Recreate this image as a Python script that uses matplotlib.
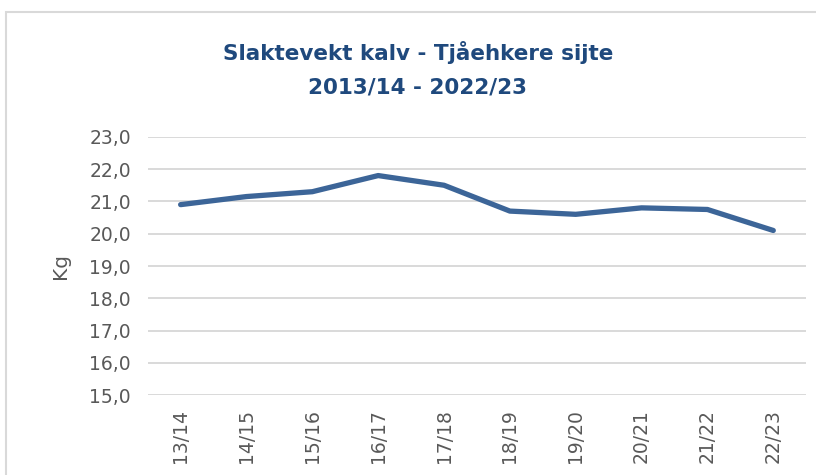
import matplotlib.pyplot as plt
from matplotlib.patches import Rectangle

# Slaktevekt kalv per sesong
sesonger = ['13/14', '14/15', '15/16', '16/17', '17/18',
            '18/19', '19/20', '20/21', '21/22', '22/23']
vekt = [20.9, 21.15, 21.3, 21.8, 21.5, 20.7, 20.6, 20.8, 20.75, 20.1]
y_ticks = [15, 16, 17, 18, 19, 20, 21, 22, 23]

fig = plt.figure(figsize=(8.16, 4.75), dpi=100)
ax = fig.add_axes([0.181, 0.168, 0.807, 0.544])

# ramme rundt diagrammet (beskaaret i originalen)
fig.patches.append(Rectangle((6 / 816, -0.1), 1.1, 1.1 - 12 / 475,
                             transform=fig.transFigure, fill=False,
                             edgecolor='#d9d9d9', linewidth=1.5))

x = list(range(len(sesonger)))
ax.plot(x, vekt, color='#3c6598', linewidth=3.8, solid_capstyle='round',
        solid_joinstyle='round', zorder=3)

ax.set_xlim(-0.5, len(sesonger) - 0.5)
ax.set_ylim(15, 23)
ax.set_yticks(y_ticks)
ax.set_yticklabels([f'{v:.1f}'.replace('.', ',') for v in y_ticks])
ax.set_xticks(x)
ax.set_xticklabels(sesonger, rotation=90)
ax.grid(axis='y', color='#d9d9d9', linewidth=1.4)
ax.set_axisbelow(True)
for s in ax.spines.values():
    s.set_visible(False)
ax.tick_params(length=0, labelsize=13.5, colors='#595959')
ax.tick_params(axis='y', pad=12)
ax.tick_params(axis='x', pad=10)

ax.set_ylabel('Kg', fontsize=14.5, color='#595959', labelpad=14)

fig.text(0.512, 0.89, 'Slaktevekt kalv - Tjåehkere sijte', ha='center', va='center',
         fontsize=15.5, fontweight='bold', color='#1f497d')
fig.text(0.512, 0.815, '2013/14 - 2022/23', ha='center', va='center',
         fontsize=15.5, fontweight='bold', color='#1f497d')

plt.savefig('out.png', dpi=100)
